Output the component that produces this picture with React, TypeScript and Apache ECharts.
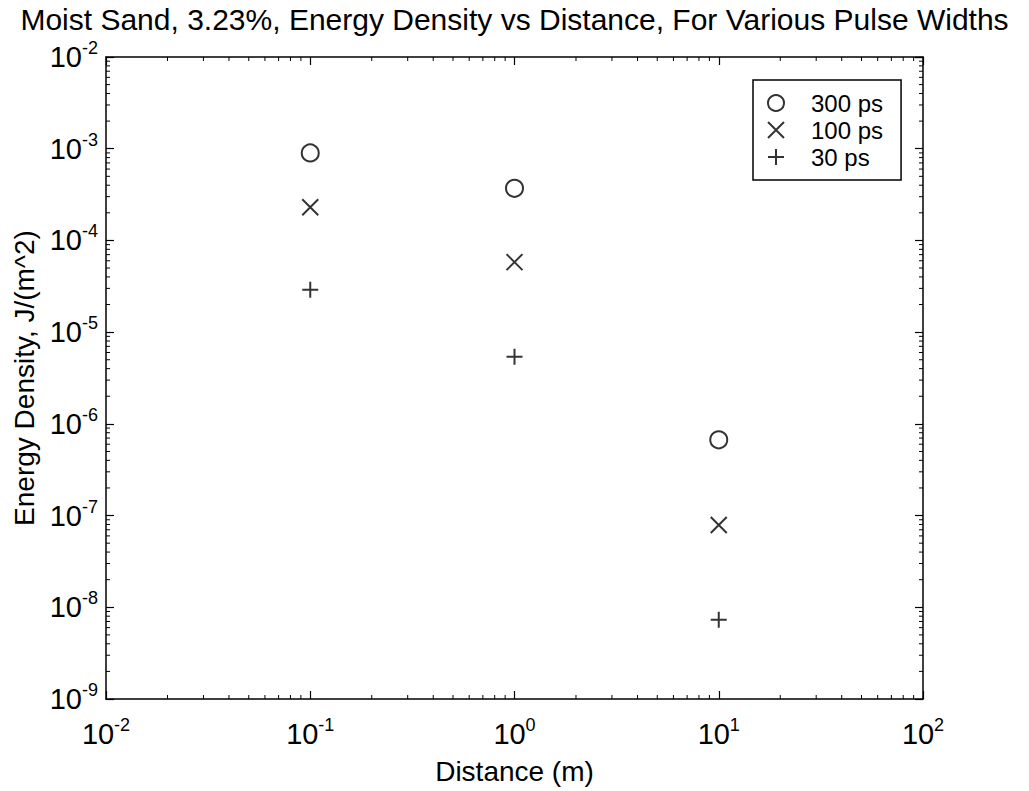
import React, { useEffect, useRef } from "react";
import * as echarts from "echarts";

const titleText = "Moist Sand, 3.23%, Energy Density vs Distance, For Various Pulse Widths";
const xName = "Distance (m)";
const yName = "Energy Density, J/(m^2)";
const seriesNames = ["300 ps", "100 ps", "30 ps"];
const distances = [0.1, 1, 10];
const ps300 = [9.0e-4, 3.7e-4, 6.7e-7];
const ps100 = [2.3e-4, 5.8e-5, 7.9e-8];
const ps30 = [2.9e-5, 5.4e-6, 7.3e-9];
const xRange = [0.01, 100];
const yRange = [1e-9, 1e-2];
const minorMultipliers = [2, 3, 4, 5, 6, 7, 8, 9];

const FONT = "Liberation Sans, Arial, Helvetica, sans-serif";
const crossPath = "path://M0,0L10,10M10,0L0,10";
const plusPath = "path://M5,0L5,10M0,5L10,5";

function minorValues(lo: number, hi: number): number[] {
  const out: number[] = [];
  const e0 = Math.round(Math.log10(lo));
  const e1 = Math.round(Math.log10(hi));
  for (let e = e0; e < e1; e++) {
    for (const m of minorMultipliers) out.push(m * Math.pow(10, e));
  }
  return out;
}

const supFormatter = (v: number) => {
  const e = Math.round(Math.log10(v));
  return `{b|10}{s|${e}}`;
};

const richLabel = {
  b: { fontSize: 29, fontFamily: FONT, color: "#000", lineHeight: 30 },
  s: { fontSize: 18, fontFamily: FONT, color: "#000", padding: [0, 0, 18, 0] },
};

export default function App() {
  const ref = useRef<HTMLDivElement>(null);
  useEffect(() => {
    if (!ref.current) return;
    const chart = echarts.init(ref.current, undefined, { renderer: "svg" });
    const xMinor = minorValues(xRange[0], xRange[1]);
    const yMinor = minorValues(yRange[0], yRange[1]);
    const axisLine = { show: true, lineStyle: { color: "#000", width: 1.5 } };
    const tick = { show: true, inside: true, length: 8, lineStyle: { color: "#000", width: 1.2 } };
    const mk = (vals: number[]) => distances.map((d, i) => [d, vals[i]]);
    const markerStyle = { color: "transparent", borderColor: "#000", borderWidth: 2 };
    const option: any = {
      animation: false,
      backgroundColor: "#fff",
      title: {
        text: titleText,
        left: "center",
        top: 2,
        padding: [2, 5, 0, 5],
        textStyle: { fontSize: 30, lineHeight: 30, fontWeight: "normal", color: "#000", fontFamily: FONT },
      },
      grid: { left: 106, right: 106, top: 57, bottom: 92, containLabel: false },
      legend: {
        data: seriesNames,
        orient: "vertical",
        left: 753,
        top: 80,
        padding: [11, 18, 11, 14],
        itemGap: 3,
        itemWidth: 16,
        itemHeight: 16,
        borderColor: "#000",
        borderWidth: 1.5,
        backgroundColor: "#fff",
        textStyle: { fontSize: 24, fontFamily: FONT, color: "#000", lineHeight: 24, padding: [0, 0, 0, 22] },
      },
      xAxis: [
        {
          type: "log",
          logBase: 10,
          min: xRange[0],
          max: xRange[1],
          splitNumber: 4,
          name: xName,
          nameLocation: "middle",
          nameGap: 58,
          nameTextStyle: { fontSize: 28, fontFamily: FONT, color: "#000" },
          axisLine,
          axisTick: tick,
          splitLine: { show: false },
          axisLabel: { formatter: supFormatter, rich: richLabel, margin: 17 },
        },
        {
          type: "log",
          logBase: 10,
          min: xRange[0],
          max: xRange[1],
          splitNumber: 4,
          position: "top",
          axisLine,
          axisTick: tick,
          splitLine: { show: false },
          axisLabel: { show: false },
        },
      ],
      yAxis: [
        {
          type: "log",
          logBase: 10,
          min: yRange[0],
          max: yRange[1],
          splitNumber: 7,
          name: yName,
          nameLocation: "middle",
          nameGap: 58,
          nameTextStyle: { fontSize: 28, fontFamily: FONT, color: "#000" },
          axisLine,
          axisTick: tick,
          splitLine: { show: false },
          axisLabel: { formatter: supFormatter, rich: richLabel, margin: 8 },
        },
        {
          type: "log",
          logBase: 10,
          min: yRange[0],
          max: yRange[1],
          splitNumber: 7,
          position: "right",
          axisLine,
          axisTick: tick,
          splitLine: { show: false },
          axisLabel: { show: false },
        },
      ],
      series: [
        {
          name: seriesNames[0],
          type: "scatter",
          data: mk(ps300),
          symbol: "circle",
          symbolSize: 17,
          itemStyle: markerStyle,
        },
        {
          name: seriesNames[1],
          type: "scatter",
          data: mk(ps100),
          symbol: crossPath,
          symbolSize: 16,
          itemStyle: markerStyle,
        },
        {
          name: seriesNames[2],
          type: "scatter",
          data: mk(ps30),
          symbol: plusPath,
          symbolSize: 16,
          itemStyle: markerStyle,
        },
        {
          type: "custom",
          silent: true,
          clip: false,
          data: [[1, 1e-5]],
          renderItem: (params: any, api: any) => {
            const cs = params.coordSys;
            const children: any[] = [];
            const L = 4;
            const st = { stroke: "#000", lineWidth: 1 };
            for (const xv of xMinor) {
              const p = api.coord([xv, yRange[0]]);
              children.push({ type: "line", shape: { x1: p[0], y1: cs.y + cs.height, x2: p[0], y2: cs.y + cs.height - L }, style: st });
              children.push({ type: "line", shape: { x1: p[0], y1: cs.y, x2: p[0], y2: cs.y + L }, style: st });
            }
            for (const yv of yMinor) {
              const p = api.coord([xRange[0], yv]);
              children.push({ type: "line", shape: { x1: cs.x, y1: p[1], x2: cs.x + L, y2: p[1] }, style: st });
              children.push({ type: "line", shape: { x1: cs.x + cs.width, y1: p[1], x2: cs.x + cs.width - L, y2: p[1] }, style: st });
            }
            return { type: "group", children };
          },
        },
      ],
    };
    chart.setOption(option);
    return () => chart.dispose();
  }, []);
  return (
    <div
      ref={ref}
      style={{ position: "fixed", left: 0, top: 0, width: 1029, height: 791, background: "#fff" }}
    />
  );
}
